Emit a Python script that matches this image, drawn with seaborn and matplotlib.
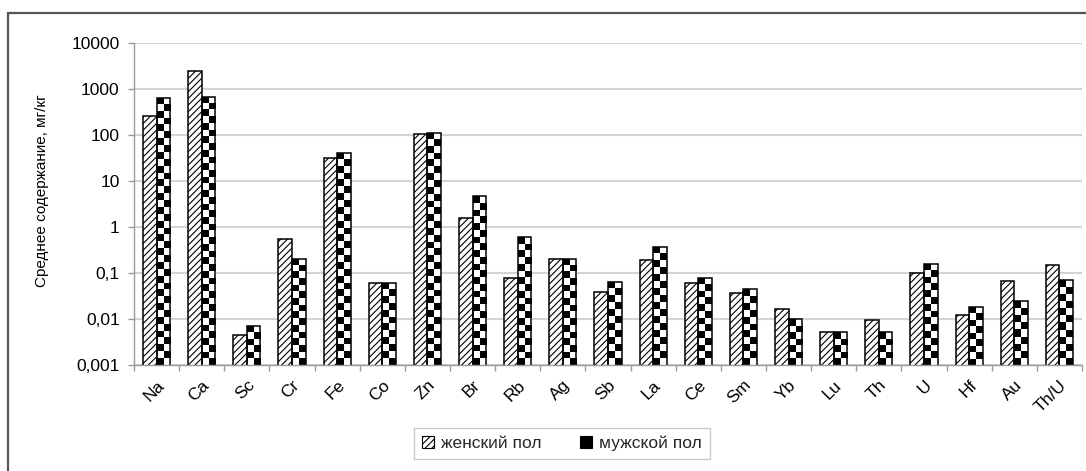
import numpy as np
import pandas as pd
import seaborn as sns
import matplotlib.pyplot as plt
from matplotlib.patches import Patch, Rectangle
from matplotlib.ticker import FixedLocator, FixedFormatter, NullLocator

# Data (mg/kg, log scale)
elements = ["Na", "Ca", "Sc", "Cr", "Fe", "Co", "Zn", "Br", "Rb", "Ag", "Sb",
            "La", "Ce", "Sm", "Yb", "Lu", "Th", "U", "Hf", "Au", "Th/U"]
female = [265, 2500, 0.0044, 0.55, 32, 0.061, 103, 1.6, 0.079, 0.205, 0.039,
          0.19, 0.061, 0.036, 0.0167, 0.0051, 0.0095, 0.1, 0.012, 0.068, 0.149]
male = [640, 680, 0.0069, 0.205, 41, 0.061, 112, 4.7, 0.6, 0.205, 0.065,
        0.37, 0.078, 0.044, 0.01, 0.0051, 0.0051, 0.157, 0.018, 0.0246, 0.069]
groups = ["женский пол", "мужской пол"]
y_ticks = [0.001, 0.01, 0.1, 1, 10, 100, 1000, 10000]
y_tick_labels = ["0,001", "0,01", "0,1", "1", "10", "100", "1000", "10000"]
y_label = "Среднее содержание, мг/кг"

df = pd.DataFrame({
    "element": elements * 2,
    "group": [groups[0]] * len(elements) + [groups[1]] * len(elements),
    "value": female + male,
})

sns.set_theme(style="white")
plt.rcParams["font.family"] = ["Liberation Sans", "DejaVu Sans"]
plt.rcParams["hatch.linewidth"] = 0.8

fig = plt.figure(figsize=(10.86, 4.71), dpi=100, facecolor="white")
ax = fig.add_axes([0.1234, 0.2251, 0.8729, 0.6836])

sns.barplot(data=df, x="element", y="value", hue="group", order=elements,
            hue_order=groups, palette=["white", "white"], width=0.6,
            edgecolor="black", linewidth=1.1, errorbar=None, legend=False,
            ax=ax)
ax.set_yscale("log")
ax.set_autoscale_on(False)
ax.set_xlim(-0.5, len(elements) - 0.5)
ax.set_ylim(y_ticks[0], y_ticks[-1])

# female bars: dense diagonal hatch
for bar in ax.containers[0]:
    bar.set_hatch("/////")

# male bars: checkerboard fill, clipped to each bar
to_axes = ax.transAxes.inverted()
for bar in ax.containers[1]:
    x0, w = bar.get_x(), bar.get_width()
    top = bar.get_y() + bar.get_height()
    p0 = ax.transData.transform((x0, y_ticks[0]))
    p1 = ax.transData.transform((x0 + w, top))
    cell = (p1[0] - p0[0]) / 2
    nrows = max(1, int(round((p1[1] - p0[1]) / cell)))
    checker = np.indices((nrows, 2)).sum(axis=0) % 2
    a0 = to_axes.transform(p0)
    a1 = to_axes.transform(p1)
    im = ax.imshow(checker, cmap="gray", vmin=0, vmax=1, aspect="auto",
                   interpolation="nearest", origin="upper",
                   extent=(a0[0], a1[0], a0[1], a1[1]),
                   transform=ax.transAxes, zorder=0.9)
    im.set_clip_path(bar)
    bar.set_facecolor("none")
    bar.set_zorder(1)

ax.set_xlim(-0.5, len(elements) - 0.5)
ax.set_ylim(y_ticks[0], y_ticks[-1])

# y axis
ax.yaxis.set_major_locator(FixedLocator(y_ticks))
ax.yaxis.set_major_formatter(FixedFormatter(y_tick_labels))
ax.yaxis.set_minor_locator(NullLocator())
ax.tick_params(axis="y", which="major", left=True, length=4.3, width=1,
               color="#9a9a9a", pad=6, labelsize=12.5, labelcolor="black")
ax.set_ylabel(y_label, fontsize=11, color="black")
ax.yaxis.set_label_coords(-0.09, 0.54)
ax.yaxis.grid(True, color="#d4d4d4", linewidth=1.5)
ax.xaxis.grid(False)
ax.set_axisbelow(True)

# x axis: ticks between categories, rotated labels
ax.set_xlabel("")
ax.xaxis.set_minor_locator(FixedLocator(np.arange(-0.5, len(elements), 1.0)))
ax.tick_params(axis="x", which="major", length=0, pad=9, labelsize=12.5,
               labelcolor="black")
ax.tick_params(axis="x", which="minor", bottom=True, length=4, width=1,
               color="#9a9a9a")
for lab in ax.get_xticklabels():
    lab.set_rotation(45)
    lab.set_ha("right")
    lab.set_va("top")
    lab.set_rotation_mode("anchor")

for side in ["top", "right"]:
    ax.spines[side].set_visible(False)
for side in ["left", "bottom"]:
    ax.spines[side].set_color("#9a9a9a")
    ax.spines[side].set_linewidth(1)

# legend
handles = [
    Patch(facecolor="white", edgecolor="black", hatch="/////", linewidth=0.8),
    Patch(facecolor="black", edgecolor="black", linewidth=0.8),
]
fig.legend(handles, groups, loc="center", bbox_to_anchor=(0.5175, 0.0584),
           ncol=2, fontsize=12.5, frameon=True, fancybox=False,
           edgecolor="#bdbdbd", handlelength=0.7, handleheight=0.7,
           handletextpad=0.4, columnspacing=2.2, borderpad=0.45)

# outer chart frame (left and top edges visible)
fig.add_artist(Rectangle((8 / 1086, -0.1), 1.1, 1.1 - 13 / 471,
                         transform=fig.transFigure, fill=False,
                         edgecolor="#555555", linewidth=1.6))

fig.savefig("out.png", dpi=100, facecolor="white")
